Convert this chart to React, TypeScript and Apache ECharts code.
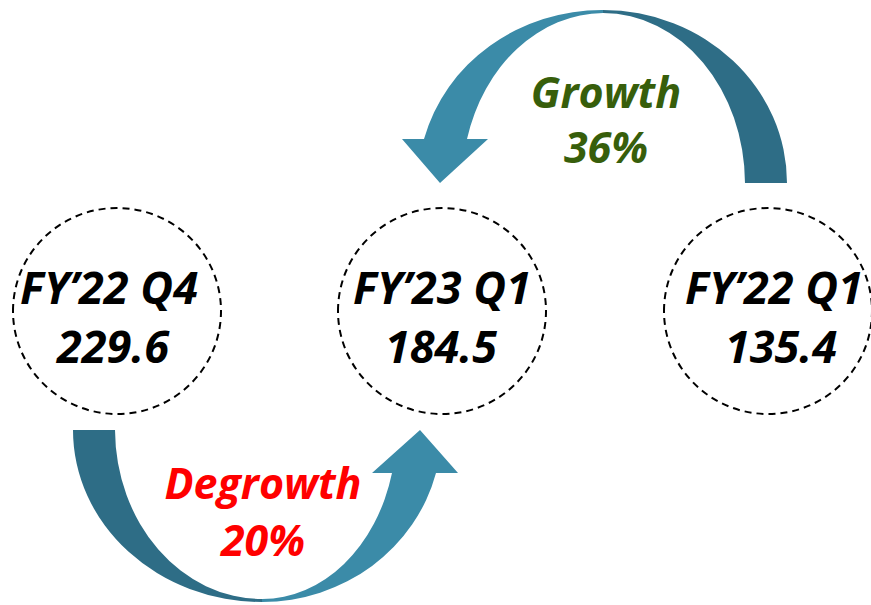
import React, { useEffect, useRef } from "react";
import * as echarts from "echarts";

// ---- data ----
const periods = ["FY’22 Q4", "FY’23 Q1", "FY’22 Q1"];
const values = [229.6, 184.5, 135.4];
const changeLabels = ["Degrowth", "Growth"];
const changePct = [20, 36];
const changeColors = ["#FF0000", "#375E0B"];

// ---- layout (positions/styles only) ----
const circleCenters = [
  [117, 311],
  [442, 311],
  [768, 311],
];
const titleCenters = [
  [109, 286],
  [442, 286],
  [774, 286],
];
const valueCenters = [
  [113, 345],
  [441, 345],
  [781, 345],
];
const changeCenters = [
  [263, 482, 539],
  [606, 91, 146],
];

const LIGHT = "#3B8BA8";
const DARK = "#2E6D86";

const arrowPaths: Record<string, string> = {
  arrowTopRight:
    "M 603 10 A 184 173 0 0 1 787 183 L 745 183 A 142 171 0 0 0 603 13 Z",
  arrowTopLeft:
    "M 603 10 A 184 173 0 0 0 424 139 L 402 139 L 440 183 L 488 139 L 467 139 A 142 171 0 0 1 603 13 Z",
  arrowBottomLeft:
    "M 73 430 A 189 172 0 0 0 262 602 L 262 599 A 147 170 0 0 1 115 430 Z",
  arrowBottomRight:
    "M 262 602 A 180 172 0 0 0 436 473 L 458 473 L 420 430 L 372 473 L 392 473 A 134 169 0 0 1 262 599 Z",
};

let registered = false;
function registerShapes() {
  if (registered) return;
  registered = true;
  Object.keys(arrowPaths).forEach((k) => {
    echarts.graphic.registerShape(k, echarts.graphic.extendPath(arrowPaths[k], {}) as any);
  });
}

const FONT = "'Open Sans', 'Noto Sans', sans-serif";

function textEl(text: string, x: number, y: number, fill: string, size: number) {
  return {
    type: "text",
    x,
    y,
    style: {
      text,
      fill,
      fontSize: size,
      fontWeight: "bold",
      fontStyle: "italic",
      fontFamily: FONT,
      align: "center",
      verticalAlign: "middle",
      textAlign: "center",
      textVerticalAlign: "middle",
    },
  };
}

export default function App() {
  const ref = useRef<HTMLDivElement>(null);
  useEffect(() => {
    document.body.style.margin = "0";
    registerShapes();
    const chart = echarts.init(ref.current!, null, { renderer: "svg" });
    const elements: any[] = [];

    elements.push({ type: "arrowTopRight", x: 0, y: 0, style: { fill: DARK } });
    elements.push({ type: "arrowTopLeft", x: 0, y: 0, style: { fill: LIGHT } });
    elements.push({ type: "arrowBottomLeft", x: 0, y: 0, style: { fill: DARK } });
    elements.push({ type: "arrowBottomRight", x: 0, y: 0, style: { fill: LIGHT } });

    periods.forEach((p, i) => {
      elements.push({
        type: "ellipse",
        shape: { cx: circleCenters[i][0], cy: circleCenters[i][1], rx: 104, ry: 103 },
        style: { fill: "none", stroke: "#000", lineWidth: 2, lineDash: [7, 5] },
      });
      elements.push(textEl(p, titleCenters[i][0], titleCenters[i][1], "#000", 45));
      elements.push(
        textEl(values[i].toFixed(1), valueCenters[i][0], valueCenters[i][1], "#000", 45)
      );
    });

    changeLabels.forEach((lbl, i) => {
      const [cx, y1, y2] = changeCenters[i];
      elements.push(textEl(lbl, cx, y1, changeColors[i], 43));
      elements.push(textEl(changePct[i] + "%", cx, y2, changeColors[i], 43));
    });

    chart.setOption({
      animation: false,
      backgroundColor: "#fff",
      graphic: { elements },
    });
    return () => chart.dispose();
  }, []);
  return <div ref={ref} style={{ width: 871, height: 605 }} />;
}
